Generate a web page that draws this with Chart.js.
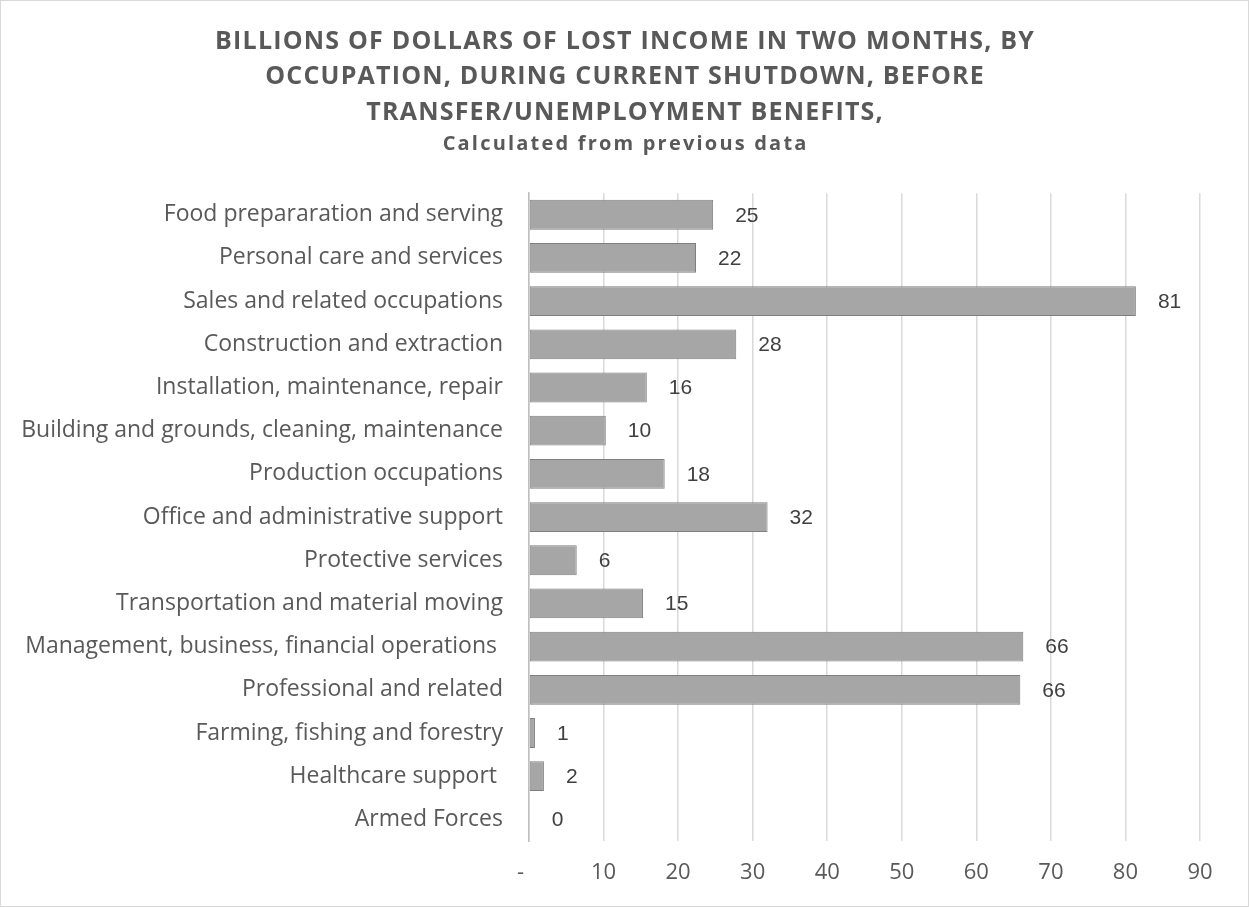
<!DOCTYPE html>
<html>
<head>
<meta charset="utf-8">
<script src="https://cdn.jsdelivr.net/npm/chart.js@4.4.1/dist/chart.umd.min.js"></script>
<style>
  body { margin: 0; background: #fff; }
  #wrap { width: 1247px; height: 905px; border: 1px solid #d9d9d9; }
</style>
</head>
<body>
<div id="wrap"><canvas id="lostIncome"></canvas></div>
<script>
// data
const occupations = [
  'Food prepararation and serving',
  'Personal care and services',
  'Sales and related occupations',
  'Construction and extraction',
  'Installation, maintenance, repair',
  'Building and grounds, cleaning, maintenance',
  'Production occupations',
  'Office and administrative support',
  'Protective services',
  'Transportation and material moving',
  'Management, business, financial operations ',
  'Professional and related',
  'Farming, fishing and forestry',
  'Healthcare support ',
  'Armed Forces'
];
const lostIncome = [24.7, 22.4, 81.4, 27.8, 15.8, 10.3, 18.2, 32.0, 6.4, 15.3, 66.3, 65.9, 0.8, 2.0, 0.1];
const xTicks = [0, 10, 20, 30, 40, 50, 60, 70, 80, 90];

const titleLines = [
  'BILLIONS OF DOLLARS OF LOST INCOME IN TWO MONTHS, BY',
  'OCCUPATION, DURING CURRENT SHUTDOWN, BEFORE',
  'TRANSFER/UNEMPLOYMENT BENEFITS,'
];
const subtitleText = 'Calculated from previous data';

const rightPad = 48;

// value labels at the end of each bar
const barLabels = {
  id: 'barLabels',
  afterDatasetsDraw(chart) {
    const ctx = chart.ctx;
    const meta = chart.getDatasetMeta(0);
    ctx.save();
    ctx.font = '21px "Liberation Sans", Arial, sans-serif';
    ctx.fillStyle = '#404040';
    ctx.textAlign = 'left';
    ctx.textBaseline = 'middle';
    meta.data.forEach((bar, i) => {
      ctx.fillText(Math.round(lostIncome[i]), bar.x + 22, bar.y + 1);
    });
    ctx.restore();
  }
};

// excel-like letter spacing for the title and subtitle, centred on the whole canvas
const spacedTitles = {
  id: 'spacedTitles',
  beforeDraw(chart) {
    chart.boxes.forEach(box => {
      if (box.axis || box._spaced || !box.options || box.options.text === undefined) return;
      const spacing = Array.isArray(box.options.text) ? 1.2 : 2.2;
      const orig = box.draw;
      box.draw = function(...args) {
        const c = this.ctx;
        c.save();
        c.letterSpacing = spacing + 'px';
        c.translate(spacing / 2 + rightPad / 2, 0);
        orig.apply(this, args);
        c.restore();
      };
      box._spaced = true;
    });
  }
};

const ctx = document.getElementById('lostIncome').getContext('2d');
new Chart(ctx, {
  type: 'bar',
  data: {
    labels: occupations,
    datasets: [{
      label: 'Lost income',
      data: lostIncome,
      backgroundColor: '#a6a6a6',
      borderColor: '#7f7f7f',
      borderWidth: 1,
      borderSkipped: false,
      barPercentage: 0.69,
      categoryPercentage: 1
    }]
  },
  options: {
    indexAxis: 'y',
    responsive: true,
    maintainAspectRatio: false,
    animation: false,
    layout: { padding: { left: 0, right: rightPad, top: 0, bottom: 0 } },
    plugins: {
      legend: { display: false },
      tooltip: { enabled: false },
      title: {
        display: true,
        text: titleLines,
        color: '#595959',
        font: { family: '"Open Sans", sans-serif', size: 25, weight: 'bold', lineHeight: 1.41 },
        padding: { top: 23.4, bottom: 0 }
      },
      subtitle: {
        display: true,
        text: subtitleText,
        color: '#595959',
        font: { family: '"Open Sans", sans-serif', size: 20, weight: 'bold', lineHeight: 1.35 },
        padding: { top: 0.5, bottom: 35.5 }
      }
    },
    scales: {
      x: {
        min: 0,
        max: 90,
        afterBuildTicks: axis => { axis.ticks = xTicks.map(v => ({ value: v })); },
        afterFit: axis => { axis.height = 65; },
        ticks: {
          color: '#595959',
          font: { family: '"Open Sans", sans-serif', size: 22 },
          padding: 19,
          callback: v => v === 0 ? '-   ' : v
        },
        grid: { color: '#d9d9d9', lineWidth: 1.5, drawTicks: false },
        border: { display: false }
      },
      y: {
        afterFit: axis => { axis.width = 528; },
        ticks: {
          color: '#595959',
          font: { family: '"Open Sans", sans-serif', size: 23 },
          padding: 26,
          autoSkip: false
        },
        grid: { display: false, drawTicks: false },
        border: { display: true, color: '#bfbfbf', width: 1.5 }
      }
    }
  },
  plugins: [barLabels, spacedTitles]
});
</script>
</body>
</html>
